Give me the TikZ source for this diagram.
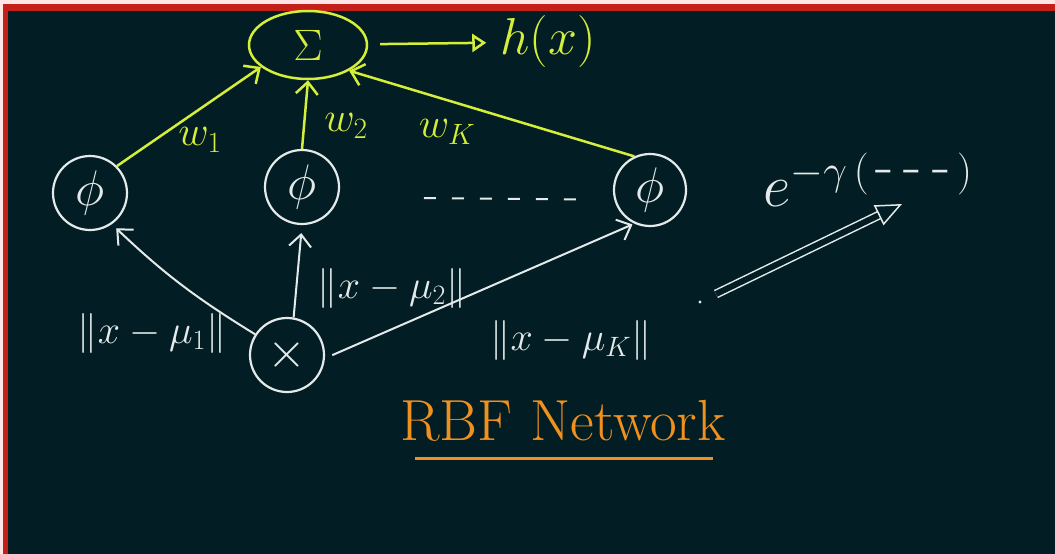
\RequirePackage{fix-cm}
\documentclass[tikz,border=0pt]{standalone}
\usetikzlibrary{positioning,shapes.geometric,arrows.meta}
\definecolor{board}{HTML}{021E24}
\definecolor{chalk}{HTML}{E4EAEA}
\definecolor{lime}{HTML}{D4EE3A}
\definecolor{amber}{HTML}{F0901E}
\definecolor{frame}{HTML}{C4201A}
\newcommand{\fsz}[1]{\fontsize{#1}{#1}\selectfont}

\begin{document}
\begin{tikzpicture}[x=1pt, y=-1pt,
    every node/.style={inner sep=0pt},
    unit/.style={circle, draw=chalk, line width=2.2pt, minimum size=74pt, text=chalk, font=\fsz{50}},
    sumnode/.style={ellipse, draw=lime, line width=2.5pt, minimum width=118pt, minimum height=68pt, text=lime, font=\fsz{44}},
    yarr/.style={-{Straight Barb[length=12pt, width=22pt, line width=2.5pt]}, line width=2.5pt, draw=lime},
    warr/.style={-{Straight Barb[length=12pt, width=22pt, line width=2pt]}, line width=2pt, draw=chalk},
    wlab/.style={text=lime, font=\fsz{42}},
    dlab/.style={text=chalk, font=\fsz{40}}
]
% board and frame
\fill[white!90!red] (0,0) rectangle (1055,554);
\fill[frame] (3,4) rectangle (1055,554);
\fill[board] (8,11) rectangle (1055,554);
\useasboundingbox (0,0) rectangle (1055,554);

% output unit
\node[sumnode] (sum) at (308,45) {$\Sigma$};
\node[text=lime, font=\fsz{52}] (out) at (548,42) {$h(x)$};
\draw[lime, line width=2.5pt, shorten <=12pt, shorten >=14pt, -{Triangle[open, length=14pt, width=18pt, line width=2.5pt]}] (sum) -- (out);

% hidden units
\node[unit] (phi1) at (90,193) {$\phi$};
\node[unit] (phi2) at (302,187) {$\phi$};
\node[unit, minimum size=72pt] (phiK) at (650,190) {$\phi$};
\draw[chalk, line width=2pt, dash pattern=on 12pt off 16pt, shorten <=122pt, shorten >=60pt] ([yshift=-10pt]phi2.center) -- ([yshift=-10pt]phiK.center);

% input
\node[unit] (inp) at (287,355) {$\times$};

% weights
\draw[yarr] (phi1.north east) -- (sum.205);
\draw[yarr] (phi2.north) -- (sum.south);
\draw[yarr] (phiK.115) -- (sum.-32);
\node[wlab] (w1) at (200,140) {$w_1$};
\node[wlab] (w2) at (346,126) {$w_2$};
\node[wlab] (wK) at (447,132) {$w_K$};

% distances
\draw[warr, shorten >=6pt] (inp.147) to[bend left=6] (phi1.-55);
\draw[warr, shorten >=8pt] (inp.80) -- (phi2.south);
\draw[warr, shorten <=8pt, shorten >=2pt] (inp.-5) -- (phiK.-115);
\node[dlab] (d1) at (152,333) {$\|x-\mu_1\|$};
\node[dlab] (d2) at (392,288) {$\|x-\mu_2\|$};
\node[dlab] (dK) at (571,340) {$\|x-\mu_K\|$};

% kernel
\node[text=chalk, font=\fsz{60}] (kern) at (868,180) {$e^{-\gamma\,(\,\mbox{-\,-\,-}\,)}$};
\coordinate (tail) at (716,294);
\coordinate (head) at (902,204);
\draw[chalk, line width=1.5pt, double=board, double distance=6pt, -{Triangle[open, length=26pt, width=22pt]}] (tail) -- (head);
\fill[chalk] (700,302) circle (1.6pt);

% title
\node[text=amber, font=\fsz{58}] (title) at (563,421) {RBF Network};
\draw[amber, line width=3pt] ([xshift=15pt, yshift=-17pt]title.south west) -- ([xshift=-13pt, yshift=-17pt]title.south east);
\end{tikzpicture}
\end{document}
